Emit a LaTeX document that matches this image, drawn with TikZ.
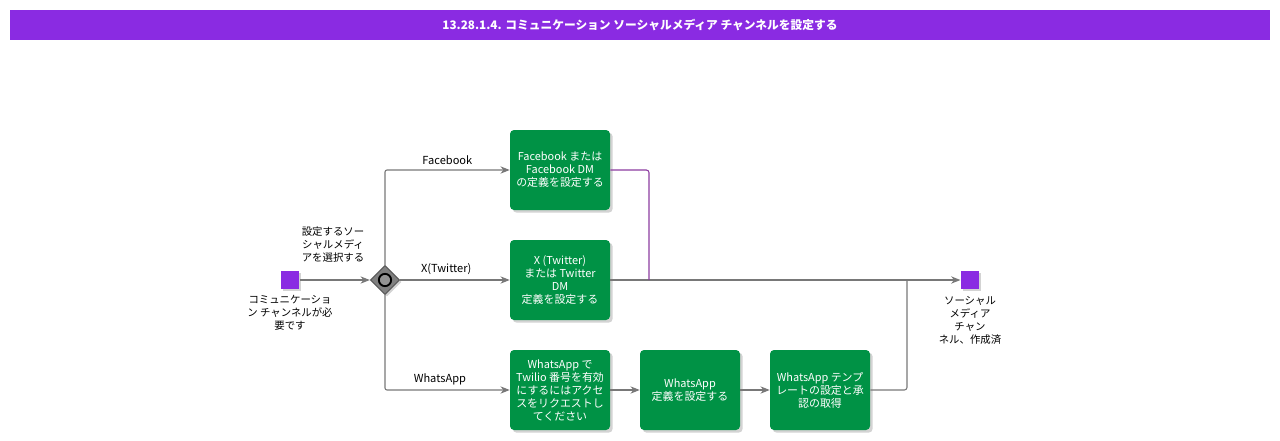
\documentclass[tikz,border=0pt]{standalone}
\usepackage{fontspec}
\setmainfont{Noto Sans CJK JP}
\usepackage{tikz}
\usetikzlibrary{shapes.geometric,arrows.meta,shadows}
\usepackage{color}
\definecolor{title-purple}{RGB}{138,43,226}
\definecolor{task-green}{RGB}{0,146,69}
\definecolor{flow-gray}{RGB}{120,120,120}
\definecolor{flow-purple}{RGB}{140,60,160}

\begin{document}
\begin{tikzpicture}[x=0.75pt,y=-0.75pt,
		task/.style={rectangle, rounded corners=3pt, fill=task-green, text=white,
			minimum width=75pt, minimum height=60pt, align=center,
			font=\fontsize{8.2}{9.75}\selectfont,
			drop shadow={shadow xshift=2pt, shadow yshift=-2pt, opacity=.35}},
		event/.style={rectangle, fill=title-purple, minimum size=14pt, inner sep=0pt,
			drop shadow={shadow xshift=1.5pt, shadow yshift=-1.5pt, opacity=.35}},
		note/.style={align=center, font=\fontsize{7.8}{9.75}\selectfont},
		flow/.style={draw=flow-gray, line width=.8pt, -{Stealth[length=7pt,width=5.5pt,fill=flow-gray]}},
		flowlab/.style={font=\fontsize{8.3}{9}\selectfont, text=black}]

			\useasboundingbox (0,0) rectangle (1280,440);

			% title bar
			\fill[title-purple] (10,10) rectangle (1270,40);
			\node[text=white, font=\bfseries\fontsize{8.8}{10}\selectfont] (title) at (640,25)
				{13.28.1.4. コミュニケーション ソーシャルメディア チャンネルを設定する};

			% start, gateway, end
			\node[event] (start) at (290,280) {};
			\node[note] (startlab) at (290,313) {コミュニケーショ\\ン チャンネルが必\\要です};

			\node[diamond, fill=gray, draw=gray!70!black, line width=.8pt, minimum size=22pt, inner sep=0pt,
				drop shadow={shadow xshift=1.5pt, shadow yshift=-1.5pt, opacity=.35}] (gw) at (385,280) {};
			\draw[black, fill=gray!85, line width=1.4pt] (gw.center) circle (4.6pt);
			\node[note] (gwlab) at (333,245) {設定するソー\\シャルメディ\\アを選択する};

			\node[event] (end) at (970,280) {};
			\node[note] (endlab) at (970,320) {ソーシャル\\メディア\\チャン\\ネル、作成済};

			% tasks
			\node[task] (fb) at (560,170) {Facebook または\\Facebook DM\\の定義を設定する};
			\node[task] (tw) at (560,280) {X (Twitter)\\または Twitter\\DM\\定義を設定する};
			\node[task] (wa1) at (560,390) {WhatsApp で\\Twilio 番号を有効\\にするにはアクセ\\スをリクエストし\\てください};
			\node[task] (wa2) at (690,390) {WhatsApp\\定義を設定する};
			\node[task] (wa3) at (820,390) {WhatsApp テンプ\\レートの設定と承\\認の取得};

			\coordinate (merge) at (649,280);
			\coordinate (join) at (907,280);

			% flows
			\draw[flow] (start) -- (gw);
			\draw[flow, rounded corners=1.5pt] (gw.north) |- node[flowlab, pos=.75, above] {Facebook} (fb);
			\draw[flow] (gw) -- node[flowlab, pos=.42, above] {X(Twitter)} (tw);
			\draw[flow, rounded corners=1.5pt] (gw.south) |- node[flowlab, pos=.72, above] {WhatsApp} (wa1);
			\draw[flow] (wa1) -- (wa2);
			\draw[flow] (wa2) -- (wa3);
			\draw[flow] (tw) -- (end);
			\draw[flow-purple, line width=.8pt, rounded corners=2pt] (fb.east) -| (merge);
			\draw[flow-gray, line width=.8pt, rounded corners=2pt] (wa3.east) -| (join);
%			\draw[flow] (join) -- (end);
		\end{tikzpicture}
\end{document}
